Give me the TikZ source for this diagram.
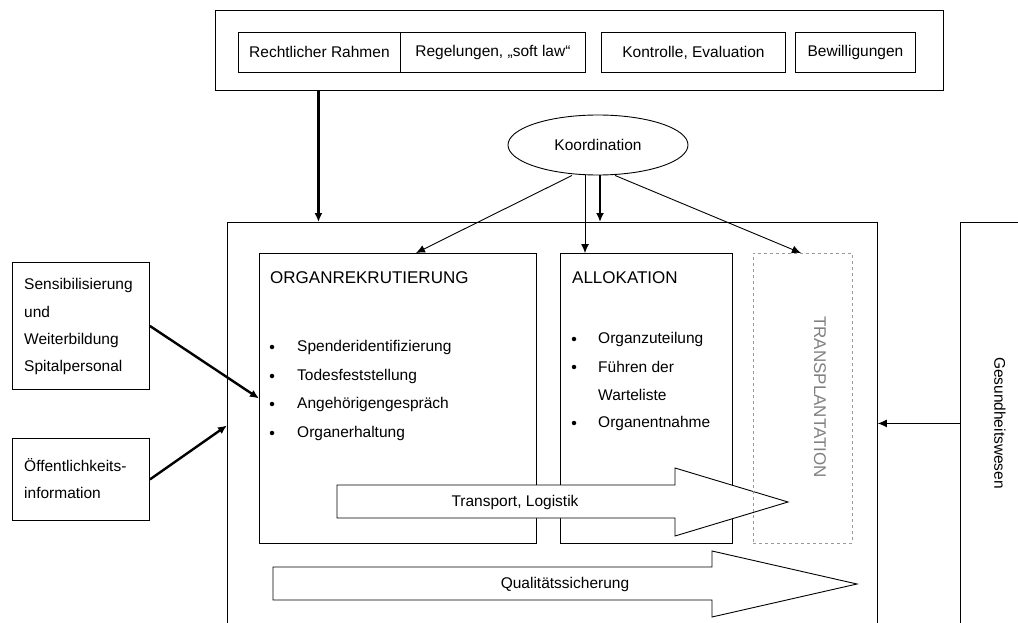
\documentclass[tikz,border=0pt]{standalone}
\usepackage{fontspec}
\setmainfont{Liberation Sans}
\usetikzlibrary{shapes.geometric,positioning,arrows.meta}

\tikzset{
  box/.style={draw,line width=0.9pt,inner sep=0pt,anchor=north west},
  dashbox/.style={box,dashed,draw=gray!80},
  thinarrow/.style={->,line width=0.9pt},
  fatarrow/.style={->,line width=2.4pt},
  blockarrow/.style={draw,fill=white,line width=0.9pt},
  item/.style={anchor=west,inner sep=0pt},
  dot/.style={circle,fill,inner sep=0pt,minimum size=4.5pt},
  title/.style={anchor=west,inner sep=0pt,font=\fontsize{17}{20}\selectfont}
}

\begin{document}
\begin{tikzpicture}[x=1pt,y=-1pt,>={Latex[length=9pt,width=8pt]},font=\fontsize{15.5}{18}\selectfont]
\useasboundingbox (0,0) rectangle (1018,623);

% rahmen oben
\node[box,minimum width=728pt,minimum height=80pt] (top) at (215,10) {};
\node[box,minimum width=162pt,minimum height=40pt] (rahmen) at (238,32) {Rechtlicher Rahmen};
\node[box,minimum width=185pt,minimum height=40pt] (regeln) at (400,32) {Regelungen, „soft law“};
\node[box,minimum width=184pt,minimum height=40pt] (kontrolle) at (601,32) {Kontrolle, Evaluation};
\node[box,minimum width=120pt,minimum height=40pt] (bewill) at (795,32) {Bewilligungen};

\node[draw,ellipse,line width=0.9pt,minimum width=180pt,minimum height=60pt] (koord) at (598,145) {Koordination};

% hauptbereich
\node[box,minimum width=650pt,minimum height=420pt] (main) at (227,222) {};
\node[box,minimum width=80pt,minimum height=420pt] (gesund) at (960,222) {};
\node[rotate=-90] (gesundtext) at (1000,423) {Gesundheitswesen};

\node[box,minimum width=277pt,minimum height=290pt] (organ) at (259,253) {};
\node[box,minimum width=172pt,minimum height=290pt] (allok) at (560,253) {};

\node[title] (organtitel) at (270,278) {ORGANREKRUTIERUNG};
\node[title] (alloktitel) at (572,278) {ALLOKATION};

\foreach \y/\txt [count=\i] in {347/Spenderidentifizierung,376/Todesfeststellung,404/Angehörigengespräch,433/Organerhaltung}{
  \node[dot] (odot\i) at (272,\y) {};
  \node[item] (oitem\i) at (297,\y) {\txt};
}
\foreach \y/\txt [count=\i] in {339/Organzuteilung,367/Führen der,423/Organentnahme}{
  \node[dot] (adot\i) at (574,\y) {};
  \node[item] (aitem\i) at (598,\y) {\txt};
}
\node[item] (aitem4) at (598,395) {Warteliste};

% links
\node[box,minimum width=137pt,minimum height=127pt] (sensi) at (12,262) {};
\foreach \y/\txt [count=\i] in {285/Sensibilisierung,312/und,340/Weiterbildung,367/Spitalpersonal}
  \node[item] (sitem\i) at (24,\y) {\txt};
\node[box,minimum width=137pt,minimum height=82pt] (oeff) at (12,438) {};
\node[item] (oitemA) at (24,465) {Öffentlichkeits-};
\node[item] (oitemB) at (24,493) {information};

% blockpfeile
\draw[blockarrow] (337,485) -- (675,485) -- (675,468) -- (788,502) -- (675,536) -- (675,518) -- (337,518) -- cycle;
\node (transport) at (515,502) {Transport, Logistik};
\draw[blockarrow] (273,567) -- (712,567) -- (712,551) -- (857,584) -- (712,617) -- (712,600) -- (273,600) -- cycle;
\node (quali) at (565,584) {Qualitätssicherung};

\node[dashbox,minimum width=99pt,minimum height=290pt] (transpl) at (753,253) {};
\node[rotate=-90,text=gray,font=\fontsize{17}{20}\selectfont] (transpltext) at (820,397) {TRANSPLANTATION};

% pfeile
\draw[fatarrow] ([xshift=-261pt]top.south) -- ([xshift=-261pt]top.south |- main.north);
\draw[thinarrow] ([xshift=-26pt]koord.south) -- ([xshift=18pt]organ.north);
\draw[thinarrow] ([xshift=-13pt]koord.south) -- ([xshift=-13pt]koord.south |- allok.north);
\draw[fatarrow] ([xshift=2pt]koord.south) -- ([xshift=2pt]koord.south |- main.north);
\draw[thinarrow] ([xshift=17pt]koord.south) -- ([xshift=-2pt]transpl.north);
\draw[thinarrow] ([yshift=9pt]gesund.west) -- ([yshift=9pt]gesund.west -| main.east);
\draw[fatarrow] (sensi.east) -- (organ.west);
\draw[fatarrow] (oeff.east) -- ([yshift=7pt]main.west);
\end{tikzpicture}
\end{document}
